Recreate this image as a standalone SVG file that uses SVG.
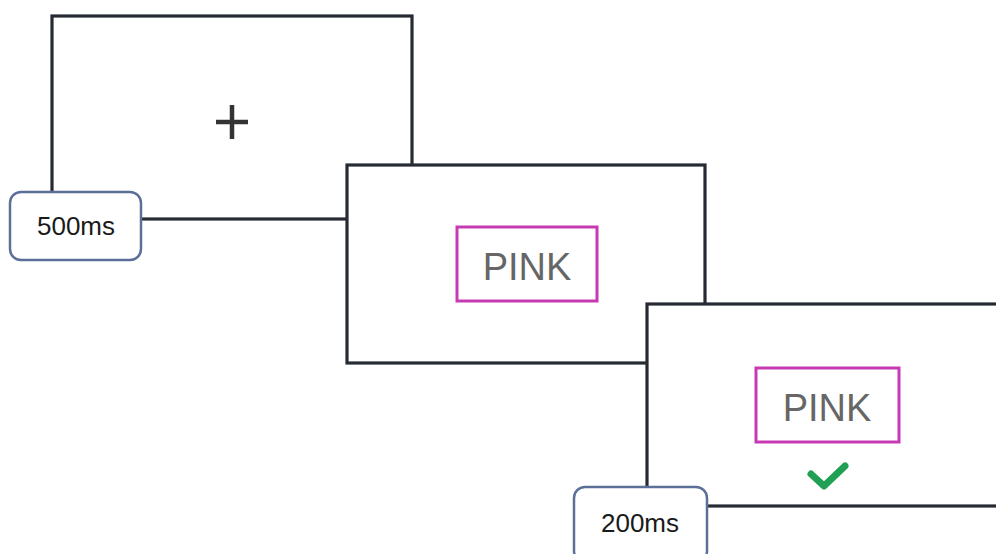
<svg xmlns="http://www.w3.org/2000/svg" width="996" height="554" viewBox="0 0 996 554">
<style>
.frame{fill:#fff;stroke:#262b33;stroke-width:3.2}
.label{fill:#fff;stroke:#5b6f99;stroke-width:2.5}
.lt{font-family:"Liberation Sans",Arial,sans-serif;font-size:26px;fill:#1a1a1a;text-anchor:middle}
.word{fill:#fff;stroke:#c83ab4;stroke-width:3}
.wt{font-family:"Liberation Sans",Arial,sans-serif;font-size:38px;fill:#666;text-anchor:middle}
</style>
<rect width="996" height="554" fill="#fff"/>
<g id="screen1">
<rect class="frame" x="52" y="16" width="360" height="203"/>
<path d="M216 122H248M232 105V139" stroke="#333" stroke-width="4.5" fill="none"/>
</g>
<g id="label500">
<rect class="label" x="10" y="192" width="131" height="68" rx="11"/>
<text class="lt" x="76" y="235">500ms</text>
</g>
<g id="screen2">
<rect class="frame" x="347" y="165" width="358" height="198"/>
<rect class="word" x="457" y="227" width="140" height="74"/>
<text class="wt" x="527" y="280">PINK</text>
</g>
<g id="screen3">
<rect class="frame" x="647" y="304" width="360" height="202"/>
<rect class="word" x="756" y="368" width="143" height="74"/>
<text class="wt" x="827" y="421">PINK</text>
<path d="M811 474L824 486L845 466" stroke="#1fa055" stroke-width="7" fill="none" stroke-linecap="round" stroke-linejoin="round"/>
</g>
<g id="label200">
<rect class="label" x="574" y="487" width="133" height="75" rx="11"/>
<text class="lt" x="640" y="532">200ms</text>
</g>
<g id="connectors"></g>
</svg>
